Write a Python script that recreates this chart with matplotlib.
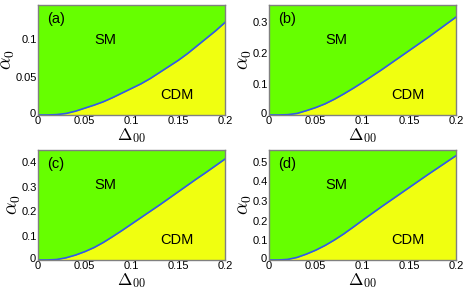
import matplotlib
matplotlib.use("Agg")
import matplotlib.pyplot as plt
import matplotlib.transforms as mtransforms
from matplotlib.ticker import FuncFormatter

plt.rcParams['font.family'] = ['Liberation Sans', 'DejaVu Sans']
plt.rcParams['mathtext.fontset'] = 'cm'

delta = [0.00, 0.01, 0.02, 0.03, 0.04, 0.05, 0.06, 0.07, 0.08, 0.09, 0.10,
         0.11, 0.12, 0.13, 0.14, 0.15, 0.16, 0.17, 0.18, 0.19, 0.20]
alpha_a = [0.0, 0.0, 0.0005, 0.002, 0.005, 0.009, 0.013, 0.0175, 0.023, 0.029, 0.035,
           0.041, 0.048, 0.056, 0.064, 0.072, 0.081, 0.091, 0.101, 0.111, 0.122]
alpha_b = [0.0, 0.0, 0.001, 0.005, 0.014, 0.024, 0.036, 0.051, 0.068, 0.086, 0.105,
           0.125, 0.145, 0.166, 0.187, 0.208, 0.229, 0.250, 0.272, 0.294, 0.316]
alpha_c = [0.0, 0.0, 0.002, 0.009, 0.020, 0.034, 0.051, 0.072, 0.096, 0.121, 0.147,
           0.173, 0.199, 0.225, 0.252, 0.279, 0.306, 0.333, 0.359, 0.386, 0.413]
alpha_d = [0.0, 0.0, 0.003, 0.013, 0.030, 0.050, 0.074, 0.102, 0.133, 0.167, 0.202,
           0.236, 0.270, 0.303, 0.336, 0.369, 0.402, 0.435, 0.467, 0.499, 0.531]

panels = ['(a)', '(b)', '(c)', '(d)']
series = [alpha_a, alpha_b, alpha_c, alpha_d]
ylims = [0.145, 0.355, 0.45, 0.56]
yticks = [[0, 0.05, 0.1], [0, 0.1, 0.2, 0.3], [0, 0.1, 0.2, 0.3, 0.4],
          [0, 0.1, 0.2, 0.3, 0.4, 0.5]]
xticks = [0, 0.05, 0.1, 0.15, 0.2]

green = '#66ff00'
yellow = '#f0ff10'
blue = '#3355ee'

fig = plt.figure(figsize=(4.64, 2.90), dpi=100)
lefts = [38, 269, 38, 269]
bottoms = [115, 115, 260, 260]
W, H = 464, 290

fmt = FuncFormatter(lambda v, p: ('%g' % round(v, 3)))
nudge = mtransforms.ScaledTranslation(-1 / 100, 2 / 100, fig.dpi_scale_trans)

for i in range(4):
    ax = fig.add_axes([lefts[i] / W, (H - bottoms[i]) / H, 187 / W, 110 / H])
    ax.set_facecolor(green)
    ax.fill_between(delta, 0, series[i], color=yellow, lw=0, zorder=1)
    ax.plot(delta, series[i], color=blue, lw=1.2, zorder=2)
    ax.set_xlim(0, 0.2)
    ax.set_ylim(0, ylims[i])
    ax.set_xticks(xticks)
    ax.set_yticks(yticks[i])
    ax.xaxis.set_major_formatter(fmt)
    ax.yaxis.set_major_formatter(fmt)
    ax.tick_params(direction='in', length=0, labelsize=8, pad=1)
    for s in ax.spines.values():
        s.set_color('#808080')
        s.set_linewidth(1.0)
    ax.set_xlabel(r'$\Delta_{00}$', fontsize=12.5, labelpad=0)
    ax.set_ylabel(r'$\alpha_0$', fontsize=14, labelpad=-1)
    ax.text(0.05, 0.87, panels[i], transform=ax.transAxes, fontsize=10.5,
            va='center', ha='left')
    ax.text(0.36, 0.68, 'SM', transform=ax.transAxes, fontsize=10.5,
            va='center', ha='center')
    ax.text(0.745, 0.18, 'CDM', transform=ax.transAxes, fontsize=10.5,
            va='center', ha='center')
    ylab0 = ax.get_yticklabels()[0]
    ylab0.set_transform(ylab0.get_transform() + nudge)

fig.savefig('out.png', dpi=100)
